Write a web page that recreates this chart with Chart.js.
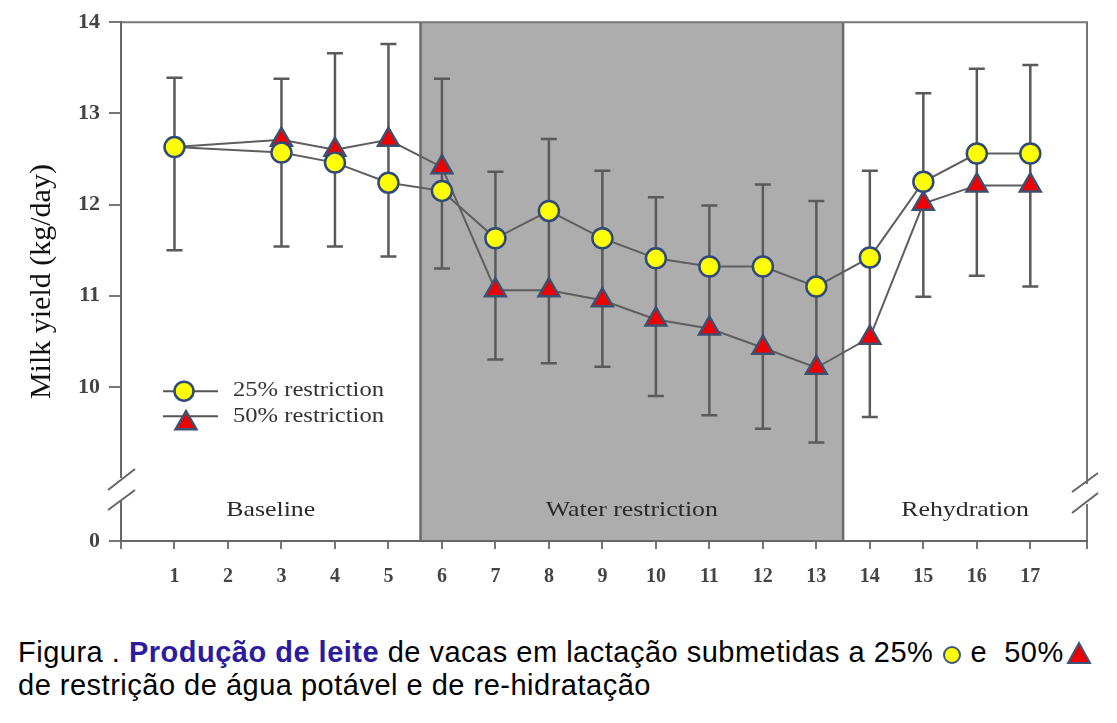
<!DOCTYPE html>
<html>
<head>
<meta charset="utf-8">
<script src="https://cdn.jsdelivr.net/npm/chart.js@4.4.0/dist/chart.umd.min.js"></script>
<style>
  body { margin: 0; background: #fff; width: 1117px; height: 723px; overflow: hidden; position: relative; }
  #chart { position: absolute; left: 0; top: 0; }
  .caption {
    position: absolute; left: 18px; top: 636px;
    font-family: 'Liberation Sans', Arial, sans-serif; font-size: 29px; line-height: 33px;
    letter-spacing: 0.5px; color: #000; white-space: nowrap;
  }
  .caption b { color: #2b1b9e; }
  .caption svg { vertical-align: -3px; }
</style>
</head>
<body>
<canvas id="chart" width="1117" height="600"></canvas>
<div class="caption">Figura . <b>Produção de leite</b> de vacas em lactação submetidas a 25% <svg width="20" height="20"><circle cx="10" cy="10" r="8" fill="#ffff00" stroke="#3d5578" stroke-width="2"/></svg> e &nbsp;50%<svg width="28" height="24"><polygon points="15,2 26,22 4,22" fill="#ee0000" stroke="#3d5578" stroke-width="2"/></svg><br>de restrição de água potável e de re-hidratação</div>
<script>
// data (day of trial -> milk yield, kg/day)
const days = [1, 2, 3, 4, 5, 6, 7, 8, 9, 10, 11, 12, 13, 14, 15, 16, 17];
const yield25 = [12.63, null, 12.57, 12.46, 12.24, 12.15, 11.63, 11.93, 11.63, 11.41, 11.32, 11.32, 11.10, 11.42, 12.25, 12.56, 12.56];
const yield50 = [12.63, null, 12.71, 12.60, 12.71, 12.41, 11.06, 11.06, 10.95, 10.74, 10.64, 10.43, 10.21, 10.54, 12.01, 12.21, 12.21];
const errHigh = [13.39, null, 13.38, 13.66, 13.76, 13.38, 12.36, 12.72, 12.37, 12.08, 11.99, 12.22, 12.04, 12.37, 13.22, 13.49, 13.53];
const errLow = [11.50, null, 11.54, 11.54, 11.43, 11.30, 10.30, 10.26, 10.22, 9.90, 9.69, 9.54, 9.39, 9.67, 10.99, 11.22, 11.10];
const yTicks = [10, 11, 12, 13, 14];
const seriesNames = ['25% restriction', '50% restriction'];
const phaseNames = ['Baseline', 'Water restriction', 'Rehydration'];
const phaseBounds = [0, 5.6, 13.5, 18.06];

const xMax = 18.06;
const yBase = 8.31; // bottom of the broken axis, labelled 0
const serif = "'Liberation Serif', 'Times New Roman', serif";

function stretchedText(ctx, text, x, y, size, color) {
  ctx.save();
  ctx.font = size + 'px ' + serif;
  ctx.fillStyle = color;
  ctx.translate(x, y);
  ctx.scale(1.23, 1);
  ctx.textAlign = 'left';
  ctx.textBaseline = 'middle';
  ctx.fillText(text, 0, 0);
  ctx.restore();
}

function centeredStretched(ctx, text, cx, y, size, color) {
  ctx.save();
  ctx.font = size + 'px ' + serif;
  const w = ctx.measureText(text).width * 1.23;
  ctx.restore();
  stretchedText(ctx, text, cx - w / 2, y, size, color);
}

function circleMark(ctx, x, y, r) {
  ctx.beginPath();
  ctx.arc(x, y, r, 0, Math.PI * 2);
  ctx.fillStyle = '#ffff00';
  ctx.fill();
  ctx.lineWidth = 2.5;
  ctx.strokeStyle = '#2f4a76';
  ctx.stroke();
}

function triangleMark(ctx, x, y, r) {
  ctx.beginPath();
  for (let k = 0; k < 3; k++) {
    const a = k * 2 * Math.PI / 3;
    const px = x + Math.sin(a) * r, py = y - Math.cos(a) * r;
    if (k === 0) ctx.moveTo(px, py); else ctx.lineTo(px, py);
  }
  ctx.closePath();
  ctx.fillStyle = '#ee0000';
  ctx.fill();
  ctx.lineWidth = 2.5;
  ctx.strokeStyle = '#3d5070';
  ctx.stroke();
}

const backdrop = {
  id: 'backdrop',
  beforeDraw(chart) {
    const { ctx, chartArea: a, scales: { x } } = chart;
    const x0 = x.getPixelForValue(phaseBounds[1]);
    const x1 = x.getPixelForValue(phaseBounds[2]);
    ctx.save();
    ctx.fillStyle = '#adadad';
    ctx.fillRect(x0, a.top, x1 - x0, a.bottom - a.top);
    ctx.strokeStyle = '#6a6a6a';
    ctx.lineWidth = 2.5;
    ctx.beginPath();
    ctx.moveTo(x0, a.top); ctx.lineTo(x0, a.bottom);
    ctx.moveTo(x1, a.top); ctx.lineTo(x1, a.bottom);
    ctx.stroke();
    // frame top and right
    ctx.strokeStyle = '#777';
    ctx.lineWidth = 2;
    ctx.beginPath();
    ctx.moveTo(a.left, a.top); ctx.lineTo(a.right, a.top); ctx.lineTo(a.right, a.bottom);
    ctx.stroke();
    // phase names
    phaseNames.forEach((name, i) => {
      const cx = x.getPixelForValue((phaseBounds[i] + phaseBounds[i + 1]) / 2);
      centeredStretched(ctx, name, cx, a.bottom - 31, 21, '#2a2a2a');
    });
    ctx.restore();
  }
};

const errorBars = {
  id: 'errorBars',
  beforeDatasetsDraw(chart) {
    const { ctx, scales: { x, y } } = chart;
    ctx.save();
    ctx.strokeStyle = '#5a5a5a';
    ctx.lineWidth = 2.5;
    days.forEach((d, i) => {
      if (errHigh[i] == null) return;
      const px = x.getPixelForValue(d);
      const top = y.getPixelForValue(errHigh[i]);
      const bot = y.getPixelForValue(errLow[i]);
      ctx.beginPath();
      ctx.moveTo(px, top); ctx.lineTo(px, bot);
      ctx.moveTo(px - 8, top); ctx.lineTo(px + 8, top);
      ctx.moveTo(px - 8, bot); ctx.lineTo(px + 8, bot);
      ctx.stroke();
    });
    ctx.restore();
  }
};

const extras = {
  id: 'extras',
  afterDraw(chart) {
    const { ctx, chartArea: a } = chart;
    ctx.save();
    // axis breaks
    ctx.fillStyle = '#fff';
    ctx.fillRect(a.left - 3, a.bottom - 63, 6, 22);
    ctx.fillRect(a.right - 3, a.bottom - 57, 6, 20);
    ctx.strokeStyle = '#666';
    ctx.lineWidth = 2;
    ctx.beginPath();
    ctx.moveTo(a.left - 13, a.bottom - 51); ctx.lineTo(a.left + 14, a.bottom - 72);
    ctx.moveTo(a.left - 13, a.bottom - 31); ctx.lineTo(a.left + 14, a.bottom - 51);
    ctx.moveTo(a.right - 15, a.bottom - 49); ctx.lineTo(a.right + 11, a.bottom - 68);
    ctx.moveTo(a.right - 15, a.bottom - 28); ctx.lineTo(a.right + 11, a.bottom - 48);
    ctx.stroke();
    // legend
    const lx0 = a.left + 42, lx1 = a.left + 97, tx = a.left + 112;
    const rows = [a.top + 369, a.top + 394];
    ctx.strokeStyle = '#555';
    ctx.lineWidth = 2;
    rows.forEach(ry => {
      ctx.beginPath(); ctx.moveTo(lx0, ry); ctx.lineTo(lx1, ry); ctx.stroke();
    });
    circleMark(ctx, a.left + 63, rows[0], 9.5);
    triangleMark(ctx, a.left + 65, rows[1] + 7, 12);
    stretchedText(ctx, seriesNames[0], tx, rows[0], 20, '#333');
    stretchedText(ctx, seriesNames[1], tx, rows[1] + 1, 20, '#333');
    ctx.restore();
  }
};

new Chart(document.getElementById('chart'), {
  type: 'line',
  data: {
    datasets: [
      {
        label: seriesNames[0],
        data: days.map((d, i) => ({ x: d, y: yield25[i] })),
        borderColor: '#5e5e5e',
        borderWidth: 2,
        tension: 0,
        spanGaps: true,
        pointStyle: 'circle',
        pointRadius: 10,
        pointBackgroundColor: '#ffff00',
        pointBorderColor: '#2f4a76',
        pointBorderWidth: 2.5
      },
      {
        label: seriesNames[1],
        data: days.map((d, i) => ({ x: d, y: yield50[i] })),
        borderColor: '#5e5e5e',
        borderWidth: 2,
        tension: 0,
        spanGaps: true,
        pointStyle: 'triangle',
        // day 1 marker sits hidden under the circle in the figure
        pointRadius: c => c.dataIndex === 0 ? 0 : 12,
        pointBackgroundColor: '#ee0000',
        pointBorderColor: '#3d5070',
        pointBorderWidth: 2.5
      }
    ]
  },
  options: {
    responsive: false,
    animation: false,
    layout: { padding: { top: 22, right: 30, left: 0, bottom: 0 } },
    plugins: { legend: { display: false }, tooltip: { enabled: false } },
    scales: {
      x: {
        type: 'linear',
        min: 0,
        max: xMax,
        afterBuildTicks: s => { s.ticks = [0, ...days, xMax].map(v => ({ value: v })); },
        afterFit: s => { s.height = 59; },
        ticks: {
          callback: v => days.includes(v) ? String(v) : '',
          autoSkip: false,
          maxRotation: 0,
          font: { family: serif, size: 20, weight: 'bold' },
          color: '#444',
          padding: 16
        },
        grid: { drawOnChartArea: false, drawTicks: true, tickLength: 8, color: '#777', lineWidth: 2 },
        border: { color: '#666', width: 2 }
      },
      y: {
        type: 'linear',
        min: yBase,
        max: 14,
        afterBuildTicks: s => { s.ticks = [yBase, ...yTicks].map(v => ({ value: v })); },
        afterFit: s => { s.width = 121; },
        ticks: {
          callback: v => v === yBase ? '0' : String(v),
          font: { family: serif, size: 22, weight: 'bold' },
          color: '#444',
          padding: 9
        },
        grid: { drawOnChartArea: false, drawTicks: true, tickLength: 12, color: '#777', lineWidth: 2 },
        border: { color: '#666', width: 2 },
        title: {
          display: true,
          text: 'Milk yield (kg/day)',
          font: { family: serif, size: 30 },
          color: '#111',
          padding: { top: 24, bottom: 0 }
        }
      }
    }
  },
  plugins: [backdrop, errorBars, extras]
});
</script>
</body>
</html>
